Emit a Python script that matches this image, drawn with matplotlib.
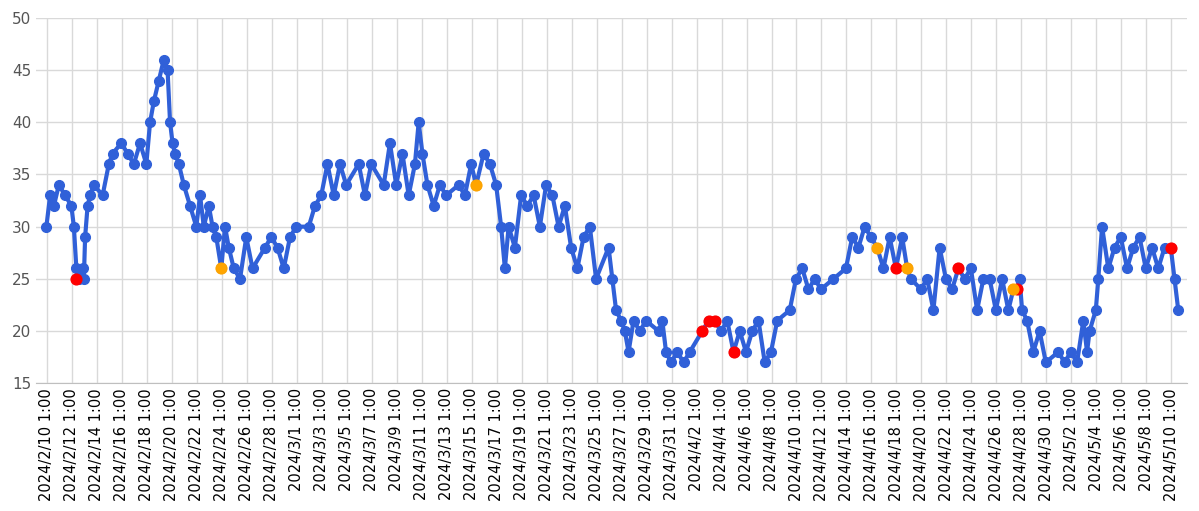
import numpy as np
import matplotlib.pyplot as plt
import datetime

# day offsets from 2024/2/10 0:00 and values
days = [0, 0.3, 0.6, 1.0, 1.5, 2.0, 2.2, 2.4, 2.6, 2.9, 3.0, 3.1, 3.3, 3.5, 3.8, 4.5, 5.0, 5.3, 6.0, 6.5, 7.0, 7.5, 8.0, 8.3, 8.6, 9.0, 9.4, 9.7, 9.9, 10.1, 10.3, 10.6, 11.0, 11.5,
        12.0, 12.3, 12.6, 13.0, 13.3, 13.6, 14.0, 14.3, 14.6, 15.0, 15.5, 16.0, 16.5, 17.5, 18.0, 18.5, 19.0, 19.5, 20.0, 21.0,
        21.5, 22.0, 22.5, 23.0, 23.5, 24.0, 25.0, 25.5, 26.0, 27.0, 27.5, 28.0, 28.5, 29.0, 29.5, 29.8, 30.1, 30.5, 31.0,
        31.5, 32.0, 33.0, 33.5, 34.0, 34.4, 35.0, 35.5, 36.0, 36.4, 36.7, 37.0, 37.5, 38.0, 38.5, 39.0, 39.5, 40.0, 40.5,
        41.0, 41.5, 42.0, 42.5, 43.0, 43.5, 44.0, 45.0, 45.3, 45.6, 46.0, 46.3, 46.6, 47.0, 47.5, 48.0, 49.0, 49.3, 49.6,
        50.0, 50.5, 51.0, 51.5, 52.5, 53.0, 53.5, 54.0, 54.5, 55.0, 55.5, 56.0, 56.5, 57.0, 57.5, 58.0, 58.5, 59.5, 60.0,
        60.5, 61.0, 61.5, 62.0, 63.0, 64.0, 64.5, 65.0, 65.5, 66.0, 66.5, 67.0, 67.5, 68.0, 68.5, 68.9, 69.2, 70.0, 70.5,
        71.0, 71.5, 72.0, 72.5, 73.0, 73.5, 74.0, 74.5, 75.0, 75.5, 76.0, 76.5, 77.0, 77.4, 77.7, 77.9, 78.1, 78.5, 79.0,
        79.5, 80.0, 81.0, 81.5, 82.0, 82.5, 83.0, 83.3, 83.5, 84.0, 84.2, 84.5, 85.0, 85.5, 86.0, 86.5, 87.0, 87.5, 88.0,
        88.5, 89.0, 89.5, 90.0, 90.3, 90.6]
values = [30, 33, 32, 34, 33, 32, 30, 26, 25, 26, 25, 29, 32, 33, 34, 33, 36, 37, 38, 37, 36, 38, 36, 40, 42, 44, 46, 45, 40, 38, 37, 36, 34, 32,
          30, 33, 30, 32, 30, 29, 26, 30, 28, 26, 25, 29, 26, 28, 29, 28, 26, 29, 30, 30,
          32, 33, 36, 33, 36, 34, 36, 33, 36, 34, 38, 34, 37, 33, 36, 40, 37, 34, 32,
          34, 33, 34, 33, 36, 34, 37, 36, 34, 30, 26, 30, 28, 33, 32, 33, 30, 34, 33, 30,
          32, 28, 26, 29, 30, 25, 28, 25, 22, 21, 20, 18, 21, 20, 21, 20, 21, 18,
          17, 18, 17, 18, 20, 21, 21, 20, 21, 18, 20, 18, 20, 21, 17, 18, 21, 22, 25,
          26, 24, 25, 24, 25, 26, 29, 28, 30, 29, 28, 26, 29, 26, 29, 26, 25, 24, 25,
          22, 28, 25, 24, 26, 25, 26, 22, 25, 25, 22, 25, 22, 24, 24, 25, 22, 21, 18,
          20, 17, 18, 17, 18, 17, 21, 18, 20, 22, 25, 30, 26, 28, 29, 26, 28, 29, 26,
          28, 26, 28, 28, 25, 22]
red_days = [2.4, 52.5, 53.0, 53.5, 55.0, 68.0, 73.0, 77.7, 90.0]
red_vals = [25, 20, 21, 21, 18, 26, 26, 24, 28]
orange_days = [14.0, 34.4, 66.5, 68.9, 77.4]
orange_vals = [26, 34, 28, 26, 24]

start = datetime.datetime(2024, 2, 10, 0, 0)
to_dt = lambda ds: [start + datetime.timedelta(days=d) for d in ds]

fig, ax = plt.subplots(figsize=(11.99, 5.11), dpi=100)
fig.subplots_adjust(left=0.03, right=0.99, top=0.965, bottom=0.25)

ax.plot(to_dt(days), values, color='#3060d8', lw=3, marker='o', ms=7, zorder=3)
ax.scatter(to_dt(red_days), red_vals, color='#ff0000', s=60, zorder=4)
ax.scatter(to_dt(orange_days), orange_vals, color='#ffa500', s=60, zorder=4)

ticks = [start + datetime.timedelta(days=2 * i, hours=1) for i in range(46)]
ax.set_xticks(ticks)
ax.set_xticklabels(['{}/{}/{} 1:00'.format(t.year, t.month, t.day) for t in ticks], rotation=90, fontsize=10.5)
ax.set_xlim(start - datetime.timedelta(hours=20), start + datetime.timedelta(days=91.3))
ax.set_ylim(15, 50)
ax.set_yticks(range(15, 51, 5))
ax.tick_params(axis='y', labelsize=11, length=0, colors='#555555')
ax.tick_params(axis='x', length=0)
ax.grid(True, color='#d9d9d9', lw=1)
for s in ['top', 'right', 'left']:
    ax.spines[s].set_visible(False)
ax.spines['bottom'].set_color('#bfbfbf')

plt.savefig('out.png')
